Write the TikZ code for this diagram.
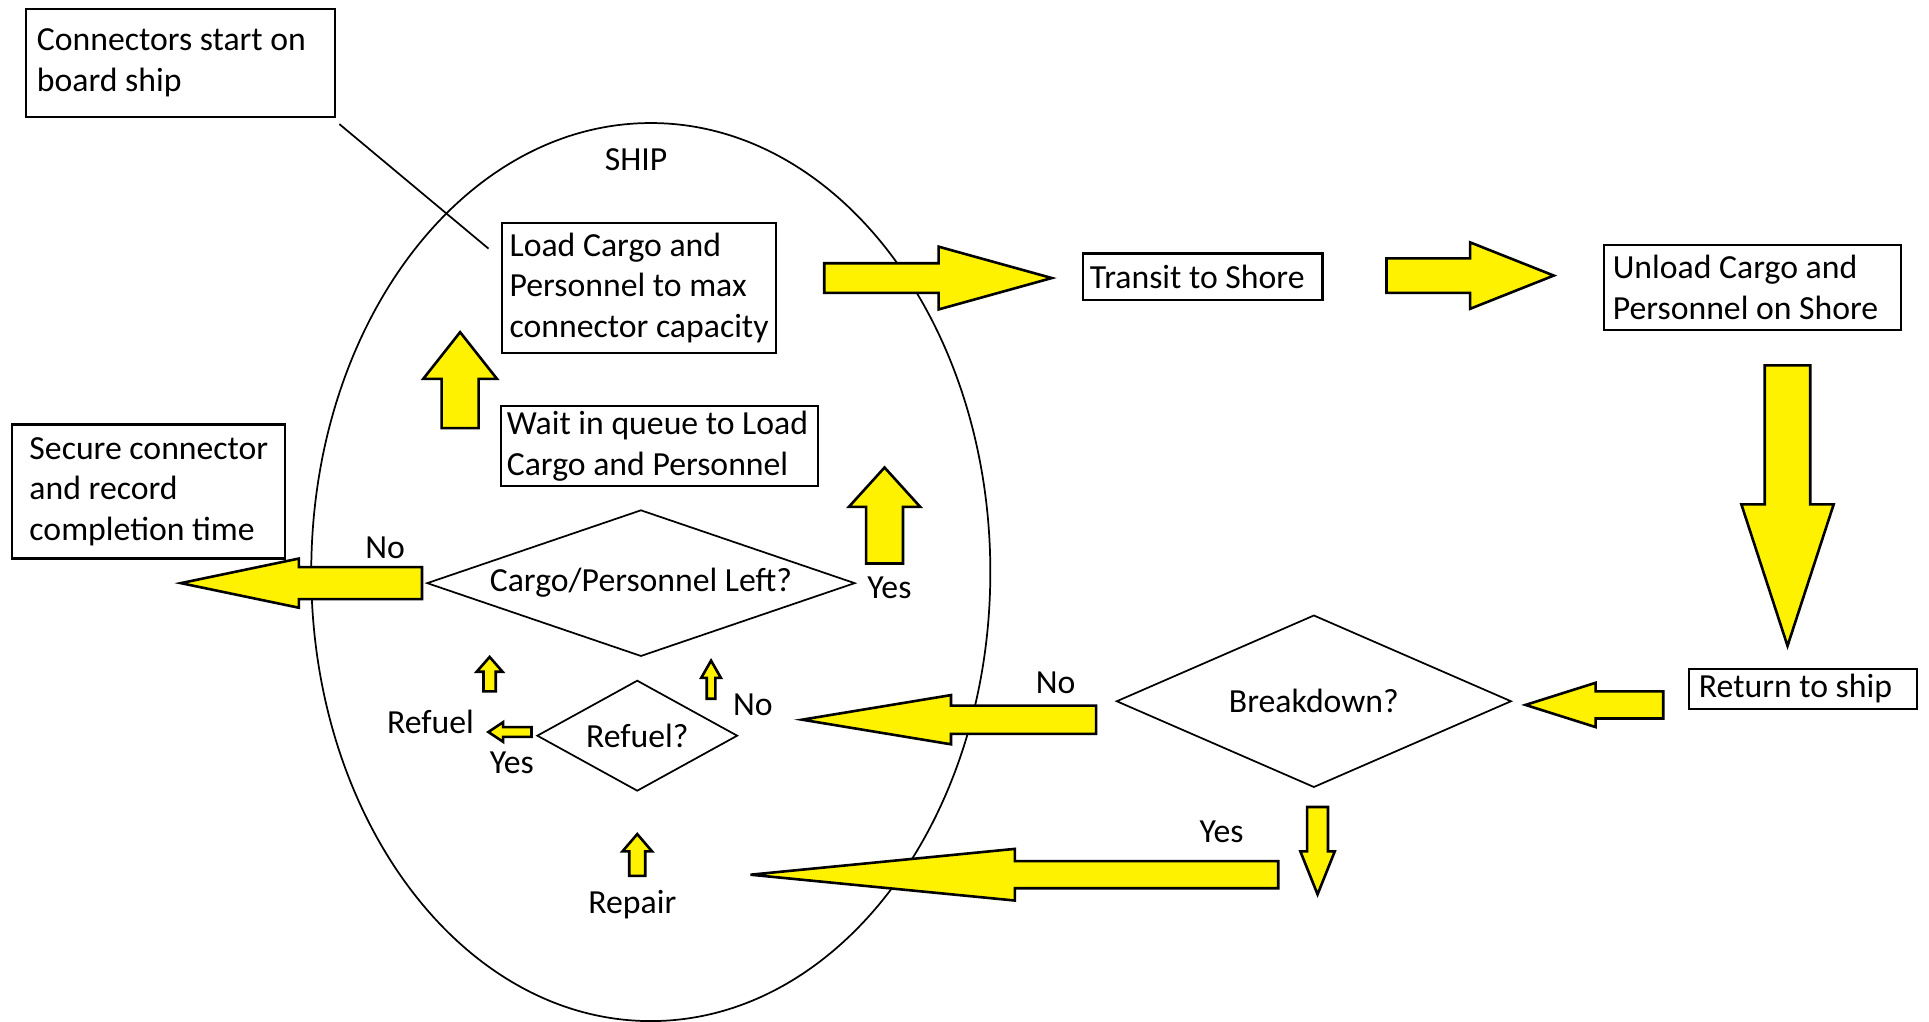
\documentclass[tikz,border=0pt]{standalone}
\usepackage{fontspec}
\setmainfont{Carlito}
\usetikzlibrary{shapes.geometric}
\definecolor{arrowyellow}{RGB}{255,242,0}
\tikzset{
  box/.style={draw=black, line width=0.5pt, align=flush left, inner sep=0pt},
  decision/.style={diamond, draw=black, line width=0.4pt, inner sep=0pt, align=center},
  tag/.style={inner sep=0pt},
  blockarrow/.style={fill=arrowyellow, draw=black, line width=0.6pt, line join=miter}
}
% yellow block arrow: tail x, tail y, direction, length, shaft half, head half, head length
\newcommand{\blockarrow}[7]{%
  \begin{scope}[shift={(#1,#2)}, rotate=#3]
    \draw[blockarrow] (0,-#5) -- (#4-#7,-#5) -- (#4-#7,-#6) -- (#4,0)
      -- (#4-#7,#6) -- (#4-#7,#5) -- (0,#5) -- cycle;
  \end{scope}}
\begin{document}
\begin{tikzpicture}[x=0.1mm, y=-0.1mm, font=\fontsize{7.8}{9.4}\selectfont]
  \useasboundingbox (0,0) rectangle (1568,830);
  % ship outline
  \node[ellipse, draw=black, line width=0.4pt, minimum width=55.2mm, minimum height=73mm, inner sep=0pt] (ship) at (529,465) {};
  \node[tag] (shipname) at (517,130) {SHIP};
  % note on the start
  \node[box, inner xsep=0.9mm, text width=23.3mm, minimum height=8.8mm] (note) at (146.5,51) {Connectors start on\\board ship};
  % steps on board
  \node[box, minimum width=22.3mm, minimum height=10.6mm] (load) at (519.5,234) {Load Cargo and\\Personnel to max\\connector capacity};
  \node[box, inner xsep=0.5mm, text width=24.8mm, minimum height=6.5mm] (wait) at (536,362.5) {Wait in queue to Load\\Cargo and Personnel};
  \node[decision, aspect=2.9, minimum width=34.8mm, minimum height=11.9mm] (left) at (521,474) {Cargo/Personnel Left?};
  \node[decision, aspect=1.8, minimum width=16.3mm, minimum height=9mm] (refuelq) at (518,598) {Refuel?};
  \node[tag] (refuel) at (350,587) {Refuel};
  \node[tag] (repair) at (514,735) {Repair};
  \node[box, minimum width=22.2mm, minimum height=10.9mm] (secure) at (121,399.5) {Secure connector\\and record\\completion time};
  % trip to shore and back
  \node[box, inner xsep=0.6mm, text width=18.3mm, minimum height=3.8mm] (transit) at (977.5,225) {Transit to Shore};
  \node[box, inner xsep=0.7mm, text width=22.7mm, minimum height=6.9mm] (unload) at (1424.5,233.5) {Unload Cargo and\\Personnel on Shore};
  \node[box, inner xsep=0.8mm, text width=16.9mm, minimum height=3.2mm] (return) at (1465.5,560) {Return to ship};
  \node[decision, aspect=2.3, minimum width=32.1mm, minimum height=14mm] (breakdown) at (1068,570) {Breakdown?};
  % answers
  \node[tag] (leftno) at (313,445) {No};
  \node[tag] (leftyes) at (723,478) {Yes};
  \node[tag] (refuelno) at (612,573) {No};
  \node[tag] (refuelyes) at (416,620) {Yes};
  \node[tag] (breakno) at (858,555) {No};
  \node[tag] (breakyes) at (993,676) {Yes};
  % pointer from the note
  \draw[line width=0.4pt] ([shift={(3,5)}]note.south east) -- ([shift={(-10,22)}]load.north west);
  % block arrows
  \blockarrow{670}{226}{0}{185}{12}{25.5}{92}
  \blockarrow{1127}{224}{0}{136}{14}{27}{68}
  \blockarrow{1453}{297}{-90}{228}{18.5}{37.5}{115}
  \blockarrow{1352}{573}{180}{112}{11}{18}{57}
  \blockarrow{891}{585}{180}{239}{11.5}{20}{121}
  \blockarrow{1071}{656}{-90}{71}{8.5}{14}{35}
  \blockarrow{1039}{711}{180}{429}{11}{21}{215}
  \blockarrow{518}{712}{90}{34}{6.5}{12}{14}
  \blockarrow{578}{568}{90}{31}{3.5}{8}{14}
  \blockarrow{432}{595}{180}{35}{4}{8}{12}
  \blockarrow{398}{562}{90}{28}{5}{10.5}{12}
  \blockarrow{343}{474}{180}{196}{13}{20}{96}
  \blockarrow{719}{458}{90}{78}{15}{29}{32}
  \blockarrow{374}{348}{90}{78}{15}{30}{38}
\end{tikzpicture}
\end{document}
